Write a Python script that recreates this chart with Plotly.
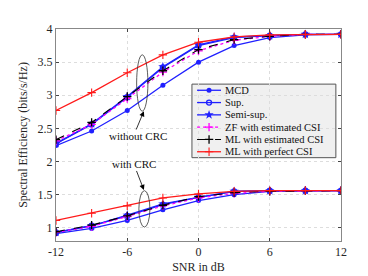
import plotly.graph_objects as go

snr = [-12, -9, -6, -3, 0, 3, 6, 9, 12]

# without CRC
mcd_nocrc = [2.24, 2.46, 2.77, 3.15, 3.50, 3.75, 3.87, 3.91, 3.92]
sup_nocrc = [2.27, 2.56, 2.97, 3.42, 3.75, 3.87, 3.90, 3.92, 3.92]
semi_nocrc = [2.27, 2.57, 2.98, 3.43, 3.76, 3.88, 3.90, 3.92, 3.92]
zf_est_nocrc = [2.31, 2.56, 2.95, 3.35, 3.67, 3.83, 3.89, 3.92, 3.92]
ml_est_nocrc = [2.33, 2.59, 2.98, 3.37, 3.69, 3.84, 3.89, 3.92, 3.92]
ml_perf_nocrc = [2.77, 3.04, 3.34, 3.61, 3.80, 3.88, 3.91, 3.92, 3.92]

# with CRC
mcd_crc = [0.91, 0.99, 1.11, 1.27, 1.41, 1.50, 1.55, 1.56, 1.56]
sup_crc = [0.93, 1.03, 1.18, 1.35, 1.46, 1.55, 1.56, 1.56, 1.56]
semi_crc = [0.93, 1.03, 1.19, 1.36, 1.46, 1.55, 1.56, 1.56, 1.56]
zf_est_crc = [0.93, 1.02, 1.17, 1.33, 1.45, 1.52, 1.55, 1.56, 1.56]
ml_est_crc = [0.94, 1.04, 1.18, 1.34, 1.47, 1.53, 1.55, 1.56, 1.56]
ml_perf_crc = [1.11, 1.22, 1.33, 1.45, 1.51, 1.55, 1.56, 1.56, 1.56]

x_ticks = [-12, -6, 0, 6, 12]
x_tick_labels = ["-12", "-6", "0", "6", "12"]
y_ticks = [1, 1.5, 2, 2.5, 3, 3.5, 4]
y_tick_labels = ["1", "1.5", "2", "2.5", "3", "3.5", "4"]
legend_labels = ["MCD", "Sup.", "Semi-sup.", "ZF with estimated CSI",
                 "ML with estimated CSI", "ML with perfect CSI"]

BLUE = "#2020ff"
series = [
    (mcd_nocrc, mcd_crc, dict(color=BLUE, width=1.3, dash="solid"),
     dict(symbol="circle", size=5, color=BLUE)),
    (sup_nocrc, sup_crc, dict(color=BLUE, width=1.3, dash="solid"),
     dict(symbol="circle-open", size=5, color=BLUE, line=dict(width=1.3, color=BLUE))),
    (semi_nocrc, semi_crc, dict(color=BLUE, width=1.3, dash="solid"),
     dict(symbol="star", size=7, color=BLUE)),
    (zf_est_nocrc, zf_est_crc, dict(color="#ff00ff", width=1.3, dash="dot"),
     dict(symbol="cross-thin-open", size=6, color="#ff00ff", line=dict(width=1.3, color="#ff00ff"))),
    (ml_est_nocrc, ml_est_crc, dict(color="black", width=1.1, dash="dash"),
     dict(symbol="cross-thin-open", size=6, color="black", line=dict(width=1.3, color="black"))),
    (ml_perf_nocrc, ml_perf_crc, dict(color="#ff1a1a", width=1.3, dash="solid"),
     dict(symbol="cross-thin-open", size=6, color="#ff1a1a", line=dict(width=1.1, color="#ff1a1a"))),
]

fig = go.Figure()
for (y1, y2, ln, mk), name in zip(series, legend_labels):
    fig.add_trace(go.Scatter(x=snr, y=y1, mode="lines+markers", name=name,
                             line=ln, marker=mk, showlegend=False))
    fig.add_trace(go.Scatter(x=snr, y=y2, mode="lines+markers", name=name,
                             line=ln, marker=mk, showlegend=False))

font = "Times New Roman, Liberation Serif, DejaVu Serif, serif"

# custom compact legend (paper-like overlay axes)
lg_x0, lg_x1, lg_y0, lg_y1 = 0.477, 0.982, 0.393, 0.740
row_top, row_step = 0.711, 0.058
fig.add_shape(type="rect", xref="paper", yref="paper", x0=lg_x0, x1=lg_x1, y0=lg_y0, y1=lg_y1,
              fillcolor="#f0f0f0", line=dict(color="#555555", width=1), layer="between")
for i, ((y1, y2, ln, mk), name) in enumerate(zip(series, legend_labels)):
    ry = row_top - i * row_step
    fig.add_trace(go.Scatter(x=[0.495, 0.579], y=[ry, ry], mode="lines", line=dict(ln),
                             xaxis="x2", yaxis="y2", showlegend=False, hoverinfo="skip"))
    fig.add_trace(go.Scatter(x=[0.537], y=[ry], mode="markers", marker=mk,
                             xaxis="x2", yaxis="y2", showlegend=False, hoverinfo="skip"))
    fig.add_annotation(x=0.586, y=ry, xref="paper", yref="paper", text=name, showarrow=False,
                       xanchor="left", yanchor="middle",
                       font=dict(family=font, size=10.5, color="#111111"))

fig.update_layout(
    width=368, height=276,
    margin=dict(l=48, r=35, t=21, b=31),
    paper_bgcolor="white", plot_bgcolor="white",
    font=dict(family=font, size=12, color="#262626"),
    showlegend=False,
    xaxis=dict(range=[-12, 12], tickvals=x_ticks, ticktext=x_tick_labels, ticks="inside", ticklen=3,
               showline=True, linecolor="#888888", mirror="ticks", linewidth=1,
               showgrid=True, gridcolor="#dddddd", griddash="dot", zeroline=False,
               tickfont=dict(family=font, size=12),
               title=dict(text="SNR in dB", font=dict(family=font, size=12), standoff=4)),
    yaxis=dict(range=[0.8, 4], tickvals=y_ticks, ticktext=y_tick_labels, ticks="inside", ticklen=3,
               showline=True, linecolor="#888888", mirror="ticks", linewidth=1,
               showgrid=True, gridcolor="#dddddd", griddash="dot", zeroline=False,
               tickfont=dict(family=font, size=12),
               title=dict(text="Spectral Efficiency (bits/s/Hz)", font=dict(family=font, size=12), standoff=7)),
    xaxis2=dict(range=[0, 1], overlaying="x", visible=False, fixedrange=True),
    yaxis2=dict(range=[0, 1], overlaying="y", visible=False, fixedrange=True),
)

# ellipses
fig.add_shape(type="circle", xref="x", yref="y", x0=-5.21, x1=-4.26, y0=2.76, y1=3.61,
              line=dict(color="#333333", width=0.8))
fig.add_shape(type="circle", xref="x", yref="y", x0=-5.02, x1=-4.09, y0=1.01, y1=1.56,
              line=dict(color="#333333", width=0.8))

# arrows
fig.add_annotation(x=-4.6, y=2.76, ax=-5.3, ay=2.46, xref="x", yref="y", axref="x", ayref="y",
                   showarrow=True, arrowhead=2, arrowsize=1.3, arrowwidth=0.8, arrowcolor="black", text="")
fig.add_annotation(x=-4.6, y=1.57, ax=-5.27, ay=1.88, xref="x", yref="y", axref="x", ayref="y",
                   showarrow=True, arrowhead=2, arrowsize=1.3, arrowwidth=0.8, arrowcolor="black", text="")
fig.add_annotation(x=-5.1, y=2.38, text="without CRC", showarrow=False, xref="x", yref="y",
                   font=dict(family=font, size=11, color="#111111"))
fig.add_annotation(x=-5.4, y=1.96, text="with CRC", showarrow=False, xref="x", yref="y",
                   font=dict(family=font, size=11, color="#111111"))

fig.write_html("out.html")
